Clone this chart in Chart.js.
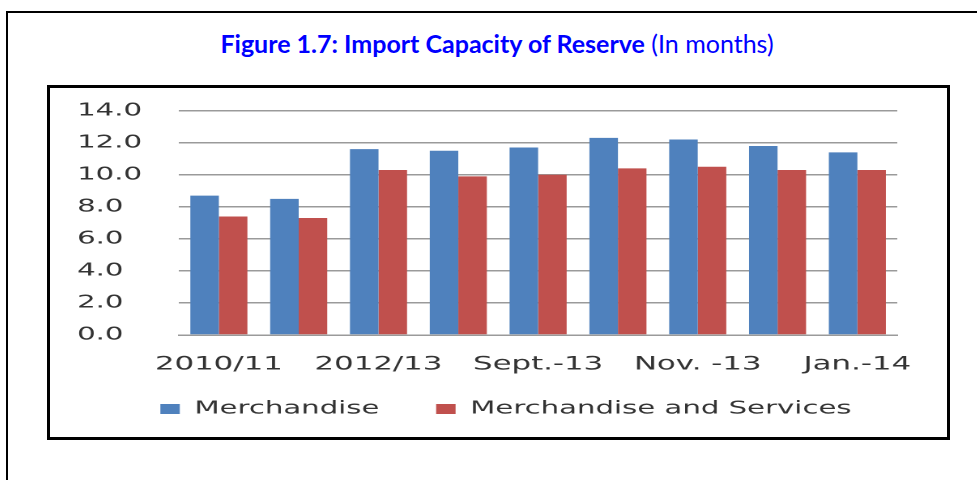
<!DOCTYPE html>
<html>
<head>
<meta charset="utf-8">
<script src="https://cdn.jsdelivr.net/npm/chart.js@4"></script>
<style>
  html, body { margin: 0; padding: 0; background: #fff; width: 977px; height: 480px; overflow: hidden; }
  #outer { position: absolute; left: 6px; top: 11px; width: 1000px; height: 500px; border-left: 2px solid #000; border-top: 2px solid #000; }
  #title { position: absolute; left: 0; top: 28px; width: 994px; text-align: center; font-family: Lato, "Open Sans", sans-serif; font-size: 25px; color: #0000ff; line-height: 30px; white-space: nowrap; }
  #title b { font-weight: 700; }
  #frame { position: absolute; left: 47px; top: 85px; width: 903px; height: 355px; border: 3px solid #000; box-sizing: border-box; }
  #wrap { position: absolute; left: 50px; top: 88px; width: 554px; height: 349px; transform: scaleX(1.62); transform-origin: 0 0; }
</style>
</head>
<body>
<div id="outer"></div>
<div id="title"><b>Figure 1.7: Import Capacity of Reserve</b> (In months)</div>
<div id="frame"></div>
<div id="wrap"><canvas id="c"></canvas></div>
<script>
const categories = ["2010/11", "2011/12", "2012/13", "Aug.-13", "Sept.-13", "Oct.-13", "Nov. -13", "Dec.-13", "Jan.-14"];
const merchandise = [8.7, 8.5, 11.6, 11.5, 11.7, 12.3, 12.2, 11.8, 11.4];
const merchandiseServices = [7.4, 7.3, 10.3, 9.9, 10.0, 10.4, 10.5, 10.3, 10.3];
const yTicks = [0, 2, 4, 6, 8, 10, 12, 14];
const seriesNames = ["Merchandise", "Merchandise and Services"];

const legendShift = {
  id: 'legendShift',
  afterLayout(chart) {
    const lg = chart.legend;
    if (!lg) return;
    lg.top -= 9; lg.bottom -= 9;
    lg.left += 11.6; lg.right += 11.6;
  }
};

new Chart(document.getElementById('c'), {
  type: 'bar',
  data: {
    labels: categories,
    datasets: [
      { label: seriesNames[0], data: merchandise, backgroundColor: '#4F81BD', borderWidth: 0, categoryPercentage: 0.715, barPercentage: 1.0 },
      { label: seriesNames[1], data: merchandiseServices, backgroundColor: '#C0504D', borderWidth: 0, categoryPercentage: 0.715, barPercentage: 1.0 }
    ]
  },
  plugins: [legendShift],
  options: {
    responsive: true,
    maintainAspectRatio: false,
    devicePixelRatio: 2,
    animation: false,
    layout: { padding: { top: 22.7, right: 31, bottom: 0, left: 16.7 } },
    plugins: {
      title: { display: false },
      tooltip: { enabled: false },
      legend: {
        position: 'bottom',
        labels: {
          font: { family: 'DejaVu Sans', size: 18 },
          color: '#333333',
          boxWidth: 12,
          boxHeight: 10,
          padding: 35
        }
      }
    },
    scales: {
      x: {
        grid: { display: false, drawTicks: false },
        border: { display: true, color: '#9a9a9a', width: 1.5 },
        ticks: {
          autoSkip: false, maxRotation: 0, minRotation: 0, padding: 18,
          font: { family: 'DejaVu Sans', size: 19 }, color: '#333333',
          callback: function(v, i) { return i % 2 === 0 ? categories[i] : ''; }
        },
        afterFit: function(s) { s.height = 39; }
      },
      y: {
        min: yTicks[0], max: yTicks[yTicks.length - 1],
        afterBuildTicks: function(s) { s.ticks = yTicks.map(v => ({ value: v })); },
        grid: { color: '#9a9a9a', lineWidth: 1.5, drawTicks: false },
        border: { display: false },
        ticks: {
          padding: 0,
          crossAlign: 'far',
          font: { family: 'DejaVu Sans', size: 18 }, color: '#333333',
          callback: function(v) { return Number(v).toFixed(1); }
        },
        afterFit: function(s) { s.width = 62.9; }
      }
    }
  }
});
</script>
</body>
</html>
